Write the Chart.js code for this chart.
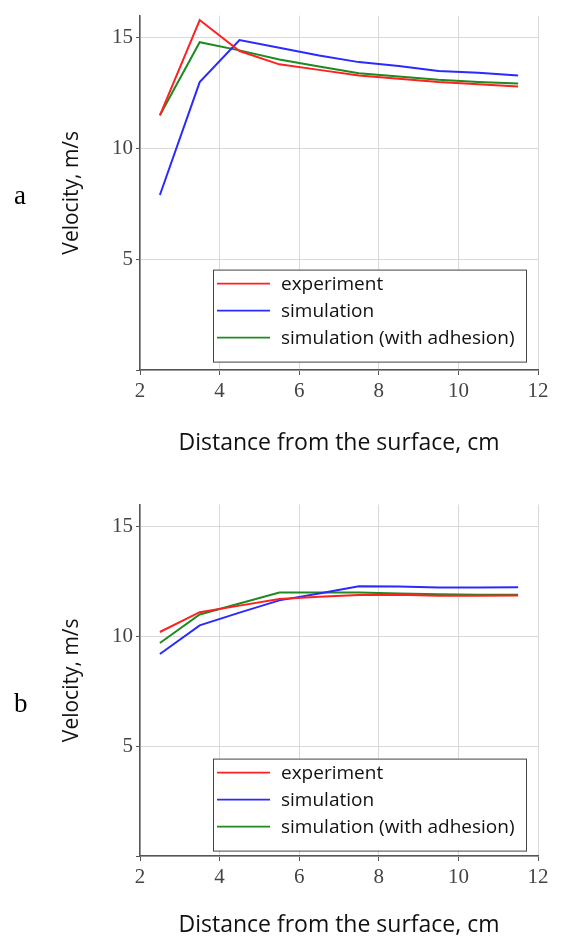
<!DOCTYPE html>
<html>
<head>
<meta charset="utf-8">
<script src="https://cdn.jsdelivr.net/npm/chart.js@4.4.1/dist/chart.umd.min.js"></script>
<style>
  body { margin: 0; background: #fff; width: 562px; height: 939px; position: relative; overflow: hidden; }
  .box { position: absolute; left: 0; width: 562px; }
  .tag { position: absolute; left: 14px; font-family: 'Liberation Serif', serif; font-size: 27px; color: #000; }
</style>
</head>
<body>
<div class="box" style="top:0;height:470px"><canvas id="chartA" width="562" height="470"></canvas></div>
<div class="box" style="top:489px;height:450px"><canvas id="chartB" width="562" height="450"></canvas></div>
<div class="tag" style="top:180px">a</div>
<div class="tag" style="top:688px">b</div>
<script>
// distance from the surface, cm
const distance = [2.5, 3.5, 4.5, 5.5, 6.5, 7.5, 8.5, 9.5, 10.5, 11.5];
const xTicks = [2, 4, 6, 8, 10, 12];
const yTicks = [0, 5, 10, 15];
const seriesNames = ['experiment', 'simulation', 'simulation (with adhesion)'];

// panel a
const aExperiment = [11.5, 15.8, 14.4, 13.8, 13.55, 13.3, 13.15, 13.0, 12.9, 12.8];
const aSimulation = [7.9, 13.0, 14.9, 14.55, 14.2, 13.9, 13.72, 13.5, 13.42, 13.3];
const aAdhesion = [11.5, 14.8, 14.43, 14.02, 13.7, 13.4, 13.25, 13.1, 13.0, 12.93];

// panel b
const bExperiment = [10.2, 11.1, 11.4, 11.7, 11.8, 11.88, 11.9, 11.85, 11.85, 11.86];
const bSimulation = [9.2, 10.5, 11.08, 11.64, 11.95, 12.28, 12.27, 12.23, 12.23, 12.24];
const bAdhesion = [9.7, 11.0, 11.5, 12.0, 12.0, 12.0, 11.95, 11.92, 11.9, 11.9];

const colors = ['#ff2020', '#2a2aff', '#1f8a1f'];

function toPoints(vals) {
  return vals.map((v, i) => ({ x: distance[i], y: v }));
}

// legend box drawn inside the plot area, lower right
const boxLegend = {
  id: 'boxLegend',
  afterDraw(chart) {
    const ctx = chart.ctx;
    const area = chart.chartArea;
    const left = area.left + 73, top = area.top + 254;
    const w = 313, h = 92;
    ctx.save();
    ctx.fillStyle = '#fff';
    ctx.fillRect(left, top, w, h);
    ctx.strokeStyle = '#444';
    ctx.lineWidth = 1;
    ctx.strokeRect(left + 0.5, top + 0.5, w, h);
    ctx.font = '19px "Open Sans"';
    ctx.textBaseline = 'middle';
    chart.data.datasets.forEach((ds, i) => {
      const y = top + 14 + i * 27;
      ctx.strokeStyle = ds.borderColor;
      ctx.lineWidth = 1.6;
      ctx.beginPath();
      ctx.moveTo(left + 4, y);
      ctx.lineTo(left + 57, y);
      ctx.stroke();
      ctx.fillStyle = '#111';
      ctx.fillText(ds.label, left + 68, y + 1);
    });
    ctx.restore();
  }
};

function makeChart(id, series, xPad, xTitleBottom) {
  const canvas = document.getElementById(id);
  return new Chart(canvas, {
    type: 'line',
    data: {
      datasets: series.map((vals, i) => ({
        label: seriesNames[i],
        data: toPoints(vals),
        borderColor: colors[i],
        borderWidth: 2,
        pointRadius: 0,
        tension: 0
      }))
    },
    options: {
      responsive: false,
      animation: false,
      layout: { padding: { left: 0, top: 10, right: 24, bottom: 0 } },
      plugins: { legend: { display: false }, tooltip: { enabled: false } },
      scales: {
        x: {
          type: 'linear',
          min: 2, max: 12,
          afterBuildTicks: s => { s.ticks = xTicks.map(v => ({ value: v })); },
          afterFit: s => { s.height = xPad; },
          grid: { color: '#d9d9d9', tickColor: '#555', tickLength: 5 },
          border: { color: '#555', width: 1.5 },
          ticks: { color: '#444', padding: 4, font: { family: 'Liberation Serif', size: 21 } },
          title: {
            display: true,
            text: 'Distance from the surface, cm',
            color: '#111',
            font: { family: 'Open Sans', size: 23 },
            padding: { top: 0, bottom: xTitleBottom }
          }
        },
        y: {
          min: 0, max: 16,
          afterBuildTicks: s => { s.ticks = yTicks.map(v => ({ value: v })); },
          afterFit: s => { s.width = 140; },
          grid: { color: '#d9d9d9', tickColor: '#555', tickLength: 4 },
          border: { color: '#555', width: 1.5 },
          ticks: {
            color: '#444', padding: 3,
            font: { family: 'Liberation Serif', size: 21 },
            callback: v => (v === 0 ? '' : v)
          },
          title: {
            display: true,
            text: 'Velocity, m/s',
            color: '#111',
            font: { family: 'Open Sans', size: 21 },
            padding: { top: 59, bottom: 0 }
          }
        }
      }
    },
    plugins: [boxLegend]
  });
}

makeChart('chartA', [aExperiment, aSimulation, aAdhesion], 100, 13);
makeChart('chartB', [bExperiment, bSimulation, bAdhesion], 83, 0);
</script>
</body>
</html>
